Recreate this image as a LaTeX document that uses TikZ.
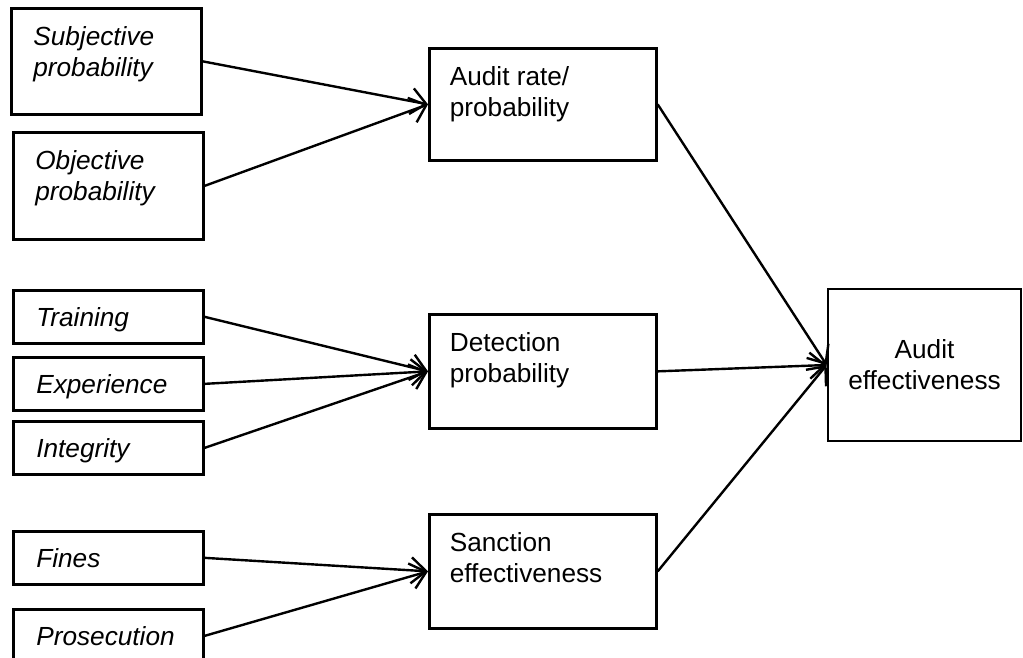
\documentclass[tikz,border=0pt]{standalone}
\usepackage{fontspec}
\setmainfont{Liberation Sans}
\usetikzlibrary{arrows.meta}

\newcommand{\toptext}[3]{\parbox[c][#1][t]{#2}{\raggedright #3}}

\begin{document}
\begin{tikzpicture}[x=1pt, y=-1pt, >={Straight Barb[length=15pt,width=26pt]},
  box/.style={draw, line width=2.7pt, anchor=north west, font=\fontsize{26.2}{31}\selectfont},
  cause/.style={box, inner xsep=22pt, inner ysep=18.5pt, font=\fontsize{26.2}{31}\selectfont\itshape},
  item/.style={box, inner xsep=23pt, text width=144pt, minimum height=53pt, align=left, text height=19pt, text depth=0pt, font=\fontsize{26.2}{31}\selectfont\itshape},
  stage/.style={box, inner xsep=20.5pt, inner ysep=18.5pt},
  result/.style={box, anchor=center, minimum width=193pt, minimum height=152pt, align=center},
  link/.style={->, line width=2.4pt}]
\useasboundingbox (0,0) rectangle (1023,658);

\node[cause] (Sub) at (10,7) {\toptext{69pt}{146pt}{Subjective\\probability}};
\node[cause] (Obj) at (12,131) {\toptext{70pt}{146pt}{Objective\\probability}};
\node[item] (Tr) at (12,289) {Training};
\node[item] (Ex) at (12,356) {Experience};
\node[item] (In) at (12,420) {Integrity};
\node[item] (Fi) at (12,530) {Fines};
\node[item] (Pr) at (12,608) {Prosecution};

\node[stage] (AR) at (428,47) {\toptext{75pt}{186pt}{Audit rate/\\probability}};
\node[stage] (DP) at (428,313) {\toptext{77pt}{186pt}{Detection\\probability}};
\node[stage] (SE) at (428,513) {\toptext{77pt}{186pt}{Sanction\\effectiveness}};

\node[result] (AE) at (924.5,365) {Audit\\effectiveness};

\draw[link] (Sub.east) -- (AR.west);
\draw[link] (Obj.east) -- (AR.west);
\draw[link] (Tr.east) -- (DP.west);
\draw[link] (Ex.east) -- (DP.west);
\draw[link] (In.east) -- (DP.west);
\draw[link] (Fi.east) -- (SE.west);
\draw[link] (Pr.east) -- (SE.west);
\draw[link] (AR.east) -- (AE.west);
\draw[link] (DP.east) -- (AE.west);
\draw[link] (SE.east) -- (AE.west);
\end{tikzpicture}
\end{document}
